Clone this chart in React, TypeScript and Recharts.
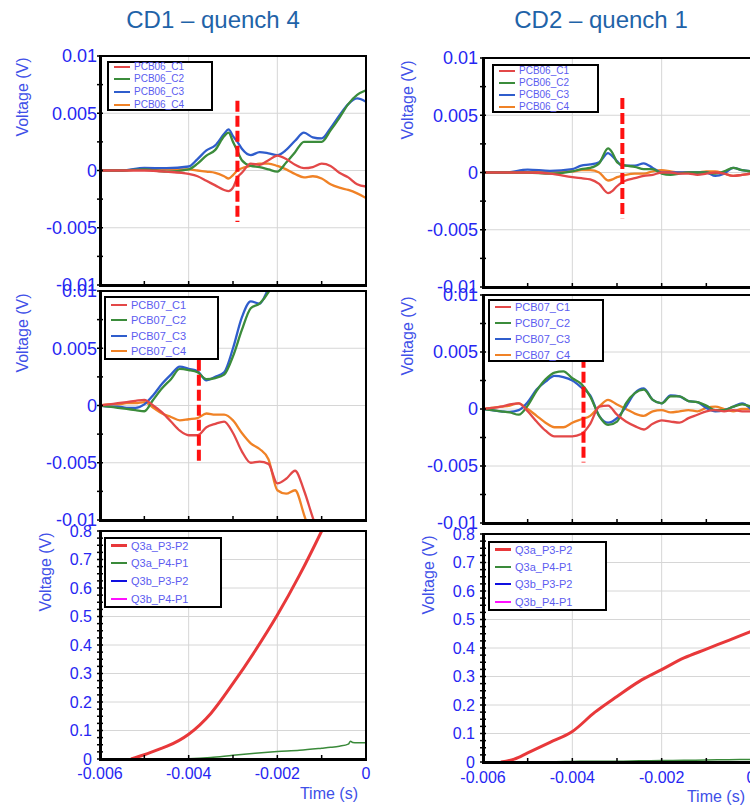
import React from "react";
import { CartesianGrid, Line, LineChart, ReferenceLine, XAxis, YAxis } from "recharts";

const FONT = '"Liberation Sans", Arial, Helvetica, sans-serif';
const AXIS_BLUE = "#2626F2";
const LABEL_BLUE = "#4050E8";
const LEGEND_BLUE = "#5C5CF0";
const TITLE_BLUE = "#1F63A8";

// ---- axes ----
const timeTicks = [-0.006, -0.005, -0.004, -0.003, -0.002, -0.001, 0];
const timeMajor = [-0.006, -0.004, -0.002, 0];
const timeLabels = ["-0.006", "-0.004", "-0.002", "0"];

const pcbTicks = [-0.01, -0.0075, -0.005, -0.0025, 0, 0.0025, 0.005, 0.0075, 0.01];
const pcbMajor = [-0.01, -0.005, 0, 0.005, 0.01];
const pcbLabels = ["-0.01", "-0.005", "0", "0.005", "0.01"];

const q3Major = [0, 0.1, 0.2, 0.3, 0.4, 0.5, 0.6, 0.7, 0.8];
const q3Labels = ["0", "0.1", "0.2", "0.3", "0.4", "0.5", "0.6", "0.7", "0.8"];
const q3Ticks = Array.from({ length: 33 }, (_, i) => (i * 25) / 1000);

// ---- CD1, PCB06 ----
const cd1Time06 = [-0.006, -0.0055, -0.005, -0.0045, -0.004, -0.0038, -0.0036, -0.0034, -0.0032, -0.0031, -0.003, -0.0029, -0.0028, -0.0026, -0.0024, -0.0022, -0.002, -0.0018, -0.0016, -0.0014, -0.0012, -0.001, -0.0008, -0.0006, -0.0004, -0.0002, 0];
const cd1Pcb06C1 = [0, 0, 0, -0.0001, -0.0003, -0.0005, -0.0009, -0.0013, -0.0017, -0.0018, -0.0015, -0.0006, -0.0002, 0.0006, 0.0005, 0.0009, 0.0013, 0.001, 0.0005, 0.0002, 0.0003, 0.0006, 0.0004, -0.0002, -0.0006, -0.0012, -0.0014];
const cd1Pcb06C2 = [0, 0, 0.0001, -0.0001, 0.0001, 0.0006, 0.0013, 0.0018, 0.003, 0.0033, 0.0025, 0.0017, 0.0009, 0.0004, 0.0003, 0.0001, -0.0001, 0.0007, 0.0016, 0.0025, 0.0025, 0.0025, 0.0035, 0.0046, 0.0058, 0.0066, 0.007];
const cd1Pcb06C3 = [0, 0, 0.00023, 0.0002, 0.00035, 0.001, 0.00175, 0.0022, 0.0032, 0.0036, 0.003, 0.0025, 0.0019, 0.00135, 0.0016, 0.0015, 0.00135, 0.0018, 0.0026, 0.0033, 0.0029, 0.0028, 0.0037, 0.0048, 0.0058, 0.0063, 0.006];
const cd1Pcb06C4 = [0, 0, 0.0001, 0.0001, 0.0001, 0, -0.0001, -0.0002, -0.0005, -0.0007, -0.0004, 0, 0.0002, 0.0004, 0.0006, 0.0006, 0.0004, 0.0001, -0.0003, -0.0006, -0.0005, -0.0007, -0.0012, -0.0015, -0.0017, -0.002, -0.0024];

// ---- CD1, PCB07 ----
const cd1Time07 = [-0.006, -0.0058, -0.0056, -0.0054, -0.0052, -0.005, -0.0048, -0.0046, -0.0044, -0.0042, -0.004, -0.0038, -0.0036, -0.0034, -0.0032, -0.003, -0.0028, -0.0026, -0.0024, -0.0022, -0.002, -0.0018, -0.0016, -0.0014, -0.0012, -0.001, -0.0008, -0.0006, -0.0004, -0.0002, 0];
const cd1Pcb07C1 = [0, 0.0001, 0.0002, 0.0003, 0.0004, 0.0005, 0, -0.0006, -0.0014, -0.0022, -0.0026, -0.0026, -0.0019, -0.0016, -0.0014, -0.0024, -0.004, -0.005, -0.0049, -0.0051, -0.0068, -0.0064, -0.0057, -0.0074, -0.0098, -0.012, null, null, null, null, null];
const cd1Pcb07C2 = [0, -0.0001, -0.0002, -0.0003, -0.0004, -0.0005, 0.0005, 0.0015, 0.0023, 0.0032, 0.0031, 0.0029, 0.0023, 0.0024, 0.0027, 0.0043, 0.0066, 0.0085, 0.0089, 0.0099, 0.0115, null, null, null, null, null, null, null, null, null, null];
const cd1Pcb07C3 = [0, -0.0001, -0.0001, -0.0002, -0.0002, 0.0001, 0.0009, 0.0019, 0.0027, 0.0034, 0.0032, 0.003, 0.0022, 0.0025, 0.0029, 0.005, 0.0077, 0.0091, 0.0089, 0.0102, 0.0115, null, null, null, null, null, null, null, null, null, null];
const cd1Pcb07C4 = [0, 0.0001, 0.0001, 0.0002, 0.0002, 0.0003, -0.0002, -0.0007, -0.001, -0.0013, -0.0012, -0.0011, -0.0007, -0.0008, -0.0008, -0.0013, -0.0024, -0.0033, -0.0038, -0.0047, -0.0074, -0.0077, -0.0074, -0.0095, -0.012, null, null, null, null, null, null];

// ---- CD1, quench antenna ----
const cd1TimeQ3 = [-0.006, -0.0055, -0.0053, -0.005, -0.0046, -0.0045, -0.004, -0.0035, -0.003, -0.0025, -0.002, -0.0015, -0.001, -0.0008, -0.0006, -0.0004, -0.00035, -0.0003, -0.0002, 0];
const cd1Q3aP3P2 = [null, null, 0, 0.015, 0.038, 0.044, 0.087, 0.16, 0.265, 0.38, 0.505, 0.645, 0.8, 0.865, null, null, null, null, null, null];
const cd1Q3aP4P1 = [null, null, null, null, 0, 0, 0.001, 0.005, 0.013, 0.02, 0.026, 0.031, 0.038, 0.041, 0.045, 0.052, 0.062, 0.058, 0.057, 0.057];
const cd1Q3bP3P2 = [null, null, 0, 0, 0, 0, 0, 0, 0, 0, 0, 0, 0, 0, 0, 0, 0, 0, 0, 0];
const cd1Q3bP4P1 = [null, null, 0, 0, 0, 0, 0, 0, 0, 0, 0, 0, 0, 0, 0, 0, 0, 0, 0, 0];

// ---- CD2, PCB06 ----
const cd2Time06 = [-0.006, -0.0055, -0.005, -0.0045, -0.004, -0.0038, -0.0036, -0.0034, -0.0032, -0.0031, -0.003, -0.0029, -0.0028, -0.0026, -0.0024, -0.0022, -0.002, -0.0018, -0.0016, -0.0014, -0.0012, -0.001, -0.0008, -0.0006, -0.0004, -0.0002, 0];
const cd2Pcb06C1 = [0, 0, 0, -0.0001, -0.0004, -0.0005, -0.0006, -0.001, -0.0018, -0.0016, -0.0012, -0.0009, -0.0007, -0.0005, -0.0003, -0.0002, 0, 0, -0.0001, -0.0001, -0.0002, -0.0001, 0, -0.0001, -0.0003, -0.0002, -0.0001];
const cd2Pcb06C2 = [0, 0, 0, -0.0001, 0.0001, 0.0003, 0.0004, 0.0008, 0.0021, 0.0017, 0.0009, 0.0007, 0.0006, 0.0005, 0.0003, 0.0003, -0.0001, -0.0002, -0.0001, 0, 0, 0, -0.0001, 0.0001, 0.0004, 0.0002, 0.0001];
const cd2Pcb06C3 = [0, 0, 0.00025, 0.00015, 0.0003, 0.0006, 0.0007, 0.0009, 0.0017, 0.0014, 0.001, 0.0006, 0.0006, 0.0006, 0.0008, 0.0004, 0, 0, 0, 0, 0, 0, -0.0003, -0.0001, 0.0004, 0.0002, 0.0001];
const cd2Pcb06C4 = [0, 0, 0, 0.0001, 0.0001, 0.0002, 0.0002, 0, -0.0007, -0.0006, -0.0004, -0.0003, -0.0002, -0.0001, -0.0001, 0.0001, 0.0002, 0.0001, 0, 0, 0, 0.0001, 0.0001, -0.0001, -0.0003, -0.0002, -0.0001];

// ---- CD2, PCB07 ----
const cd2Time07 = [-0.006, -0.0058, -0.0056, -0.0054, -0.0052, -0.005, -0.0048, -0.0046, -0.0044, -0.0042, -0.004, -0.0038, -0.0036, -0.0034, -0.0032, -0.003, -0.0028, -0.0026, -0.0024, -0.0022, -0.002, -0.0018, -0.0016, -0.0014, -0.0012, -0.001, -0.0008, -0.0006, -0.0004, -0.0002, 0];
const cd2Pcb07C1 = [0, 0.0001, 0.0002, 0.0004, 0.0005, -0.0002, -0.0011, -0.0019, -0.0024, -0.0024, -0.0024, -0.0022, -0.0013, 0.0002, 0.0003, -0.0005, -0.0011, -0.0015, -0.0018, -0.0013, -0.001, -0.0011, -0.0012, -0.0008, -0.0005, -0.0002, -0.0001, -0.0002, -0.0001, -0.0002, -0.0002];
const cd2Pcb07C2 = [0, -0.0001, -0.0002, -0.0003, -0.0005, 0.0003, 0.0016, 0.0026, 0.0032, 0.0033, 0.0027, 0.0022, 0.0011, -0.0006, -0.0014, -0.0011, 0.0005, 0.0014, 0.0017, 0.0008, 0.0005, 0.0011, 0.0011, 0.0007, 0.0006, 0.0003, -0.0001, -0.0001, 0.0002, 0.0004, 0.0002];
const cd2Pcb07C3 = [0, -0.0001, -0.0002, -0.00025, -0.0001, 0.0006, 0.0017, 0.0024, 0.0029, 0.0028, 0.0025, 0.0019, 0.0012, -0.0006, -0.0012, -0.0008, 0.0002, 0.0014, 0.0018, 0.0008, 0.0005, 0.0012, 0.0011, 0.0007, 0.0006, 0.0001, -0.0002, -0.0001, 0.0002, 0.0005, 0];
const cd2Pcb07C4 = [0, 0.0001, 0.0002, 0.0003, 0.0005, 0, -0.0006, -0.0012, -0.0016, -0.0016, -0.0012, -0.0009, -0.0006, 0.0002, 0.0008, 0.0004, 0, -0.0004, -0.0006, -0.0002, -0.0001, -0.0003, -0.0002, -0.0001, -0.0002, 0.0001, 0.0002, 0, -0.0002, 0, 0];

// ---- CD2, quench antenna ----
const cd2TimeQ3 = [-0.006, -0.0056, -0.0053, -0.005, -0.0045, -0.004, -0.0035, -0.003, -0.0025, -0.002, -0.0015, -0.001, -0.0005, 0];
const cd2Q3aP3P2 = [null, 0, 0.01, 0.032, 0.069, 0.107, 0.174, 0.23, 0.283, 0.324, 0.365, 0.396, 0.427, 0.458];
const cd2Q3aP4P1 = [null, 0, 0, 0.001, 0.001, 0.002, 0.003, 0.003, 0.004, 0.005, 0.006, 0.007, 0.008, 0.009];
const cd2Q3bP3P2 = [null, 0, 0, 0, 0, 0, 0, 0, 0, 0, 0, 0, 0, 0];
const cd2Q3bP4P1 = [null, 0, 0, 0, 0, 0, 0, 0, 0, 0, 0, 0, 0, 0];

type Values = (number | null)[];
type Series = { key: string; name: string; color: string; width: number; values: Values };

const pcbColors = ["#E34848", "#3B8C3B", "#2F5DCC", "#F08226"];
const q3Names = ["Q3a_P3-P2", "Q3a_P4-P1", "Q3b_P3-P2", "Q3b_P4-P1"];
const q3Colors = ["#E8383A", "#3A8A3A", "#1010E0", "#FF10FF"];
const q3Widths = [3, 1.5, 2, 2];

const pcbSeries = (board: string, values: Values[]): Series[] =>
  values.map((v, i) => ({
    key: `c${i + 1}`,
    name: `${board}_C${i + 1}`,
    color: pcbColors[i],
    width: 2.3,
    values: v,
  }));

const q3Series = (values: Values[]): Series[] =>
  values.map((v, i) => ({
    key: `q${i}`,
    name: q3Names[i],
    color: q3Colors[i],
    width: q3Widths[i],
    values: v,
  }));

interface LegendBox {
  x: number;
  y: number;
  w: number;
  h: number;
  first: number;
  gap: number;
  font: number;
}

interface PanelProps {
  x: number;
  y: number;
  w: number;
  h: number;
  time: number[];
  series: Series[];
  yDomain: [number, number];
  yTicks: number[];
  yMajor: number[];
  yLabels: string[];
  yFont: number;
  yGap: number;
  voltX: number;
  voltY: number;
  legend: LegendBox;
  cursor?: { t: number; top: number; bottom: number };
  showTime?: boolean;
  timeDy?: number;
  timeTitleDx?: number;
}

const findMajor = (list: number[], v: number) => list.findIndex((m) => Math.abs(m - v) < 1e-9);

function Panel(p: PanelProps) {
  const L = 110;
  const T = 14;
  const R = 12;
  const B = 48;
  const bottom = T + p.h;
  const rows = p.time.map((t, i) => {
    const row: Record<string, number | null> = { t };
    p.series.forEach((s) => {
      row[s.key] = s.values[i];
    });
    return row;
  });

  const yTick = (props: any) => {
    const { y, payload } = props;
    const idx = findMajor(p.yMajor, payload.value);
    return (
      <g>
        <line x1={L - 3} x2={L + 3} y1={y} y2={y} stroke="#000" strokeWidth={1.5} />
        {idx >= 0 && (
          <text x={L - p.yGap} y={y} dy="0.36em" textAnchor="end" fill={AXIS_BLUE} fontSize={p.yFont} fontFamily={FONT}>
            {p.yLabels[idx]}
          </text>
        )}
      </g>
    );
  };

  const xTick = (props: any) => {
    const { x, payload } = props;
    const idx = findMajor(timeMajor, payload.value);
    return (
      <g>
        <line x1={x} x2={x} y1={bottom - 4} y2={bottom + 1} stroke="#000" strokeWidth={1.5} />
        {p.showTime && idx >= 0 && (
          <text x={x} y={bottom + (p.timeDy ?? 14)} dy="0.36em" textAnchor="middle" fill={AXIS_BLUE} fontSize={16} fontFamily={FONT}>
            {timeLabels[idx]}
          </text>
        )}
      </g>
    );
  };

  const voltLabel = () => {
    const cx = L + p.voltX;
    const cy = T + p.voltY;
    return (
      <text x={cx} y={cy} transform={`rotate(-90 ${cx} ${cy})`} textAnchor="middle" dominantBaseline="central" fill={LABEL_BLUE} fontSize={16} fontFamily={FONT}>
        Voltage (V)
      </text>
    );
  };

  const timeLabel = () =>
    p.showTime ? (
      <text x={L + p.w + (p.timeTitleDx ?? -8)} y={bottom + 34} dy="0.36em" textAnchor="end" fill={LABEL_BLUE} fontSize={16} fontFamily={FONT}>
        Time (s)
      </text>
    ) : null;

  const lg = p.legend;

  return (
    <>
      <div style={{ position: "absolute", left: p.x - L, top: p.y - T }}>
        <LineChart width={p.w + L + R} height={p.h + T + B} data={rows} margin={{ top: T, right: R, bottom: 0, left: 0 }}>
          <CartesianGrid stroke="#D6D6D6" strokeWidth={1} horizontalValues={p.yMajor} verticalValues={timeMajor} />
          <XAxis
            dataKey="t"
            type="number"
            domain={[-0.006, 0]}
            ticks={timeTicks}
            interval={0}
            allowDataOverflow
            axisLine={false}
            tickLine={false}
            tick={xTick}
            height={B}
            label={timeLabel}
          />
          <YAxis
            type="number"
            domain={p.yDomain}
            ticks={p.yTicks}
            interval={0}
            allowDataOverflow
            axisLine={false}
            tickLine={false}
            tick={yTick}
            width={L}
            label={voltLabel}
          />
          {[...p.series].reverse().map((s) => (
            <Line
              key={s.key}
              type="monotone"
              dataKey={s.key}
              stroke={s.color}
              strokeWidth={s.width}
              dot={false}
              activeDot={false}
              isAnimationActive={false}
            />
          ))}
          {p.cursor && (
            <ReferenceLine
              segment={[
                { x: p.cursor.t, y: p.cursor.top },
                { x: p.cursor.t, y: p.cursor.bottom },
              ]}
              stroke="#FF1010"
              strokeWidth={4}
              strokeDasharray="11 4"
            />
          )}
        </LineChart>
      </div>
      {/* plot frame, heavier on the axis sides */}
      <div
        style={{
          position: "absolute",
          left: p.x - 1.5,
          top: p.y - 1,
          width: p.w + 2.5,
          height: p.h + 2.5,
          boxSizing: "border-box",
          borderLeft: "3px solid #000",
          borderBottom: "3px solid #000",
          borderTop: "2px solid #000",
          borderRight: "2px solid #000",
        }}
      />
      <div
        style={{
          position: "absolute",
          left: p.x + lg.x,
          top: p.y + lg.y,
          width: lg.w,
          height: lg.h,
          boxSizing: "border-box",
          border: "2px solid #000",
          background: "#fff",
        }}
      >
        {p.series.map((s, i) => (
          <div
            key={s.key}
            style={{
              position: "absolute",
              left: 0,
              top: lg.first + i * lg.gap - 2 - 7,
              height: 14,
              display: "flex",
              alignItems: "center",
              whiteSpace: "nowrap",
            }}
          >
            <span style={{ display: "inline-block", marginLeft: 5, width: 16, height: Math.max(2, Math.round(s.width)), background: s.color }} />
            <span style={{ marginLeft: 4, fontSize: lg.font, lineHeight: "14px", color: LEGEND_BLUE, fontFamily: FONT }}>{s.name}</span>
          </div>
        ))}
      </div>
    </>
  );
}

const titleStyle = (cx: number): React.CSSProperties => ({
  position: "absolute",
  left: cx,
  top: 6,
  transform: "translateX(-50%)",
  fontSize: 24,
  lineHeight: "28px",
  color: TITLE_BLUE,
  fontFamily: FONT,
  whiteSpace: "nowrap",
});

export default function App() {
  const pcbAxis = {
    yDomain: [-0.01, 0.01] as [number, number],
    yTicks: pcbTicks,
    yMajor: pcbMajor,
    yLabels: pcbLabels,
    yFont: 18,
  };
  const q3Axis = {
    yDomain: [0, 0.8] as [number, number],
    yTicks: q3Ticks,
    yMajor: q3Major,
    yLabels: q3Labels,
    yFont: 16,
  };

  return (
    <div
      style={{
        position: "absolute",
        left: 0,
        top: 0,
        width: 750,
        height: 805,
        overflow: "hidden",
        background: "#fff",
        fontFamily: FONT,
      }}
    >
      <div style={titleStyle(213)}>CD1 – quench 4</div>
      <div style={titleStyle(601)}>CD2 – quench 1</div>

      <Panel
        x={100}
        y={56}
        w={266}
        h={229}
        time={cd1Time06}
        series={pcbSeries("PCB06", [cd1Pcb06C1, cd1Pcb06C2, cd1Pcb06C3, cd1Pcb06C4])}
        {...pcbAxis}
        yGap={3}
        voltX={-78}
        voltY={41}
        legend={{ x: 7, y: 5, w: 106, h: 50, first: 5.5, gap: 12.7, font: 10 }}
        cursor={{ t: -0.0029, top: 0.0061, bottom: -0.0045 }}
      />
      <Panel
        x={100}
        y={291}
        w={266}
        h={229}
        time={cd1Time07}
        series={pcbSeries("PCB07", [cd1Pcb07C1, cd1Pcb07C2, cd1Pcb07C3, cd1Pcb07C4])}
        {...pcbAxis}
        yGap={3}
        voltX={-78}
        voltY={42}
        legend={{ x: 4, y: 5, w: 115, h: 64, first: 8.6, gap: 15.6, font: 11 }}
        cursor={{ t: -0.00377, top: 0.0053, bottom: -0.005 }}
      />
      <Panel
        x={100}
        y={531}
        w={266}
        h={228}
        time={cd1TimeQ3}
        series={q3Series([cd1Q3aP3P2, cd1Q3aP4P1, cd1Q3bP3P2, cd1Q3bP4P1])}
        {...q3Axis}
        yGap={8}
        voltX={-55}
        voltY={41}
        legend={{ x: 4, y: 6, w: 118, h: 71, first: 8.7, gap: 17.6, font: 11 }}
        showTime
        timeDy={14}
        timeTitleDx={-8}
      />

      <Panel
        x={483}
        y={58}
        w={268}
        h={229}
        time={cd2Time06}
        series={pcbSeries("PCB06", [cd2Pcb06C1, cd2Pcb06C2, cd2Pcb06C3, cd2Pcb06C4])}
        {...pcbAxis}
        yGap={5}
        voltX={-76}
        voltY={42}
        legend={{ x: 9, y: 6, w: 107, h: 49, first: 6.7, gap: 12, font: 10 }}
        cursor={{ t: -0.00288, top: 0.0065, bottom: -0.004 }}
      />
      <Panel
        x={483}
        y={295}
        w={268}
        h={228}
        time={cd2Time07}
        series={pcbSeries("PCB07", [cd2Pcb07C1, cd2Pcb07C2, cd2Pcb07C3, cd2Pcb07C4])}
        {...pcbAxis}
        yGap={5}
        voltX={-76}
        voltY={41}
        legend={{ x: 5, y: 4, w: 116, h: 63, first: 7.7, gap: 16.1, font: 11 }}
        cursor={{ t: -0.00375, top: 0.0059, bottom: -0.0047 }}
      />
      <Panel
        x={483}
        y={534}
        w={268}
        h={228}
        time={cd2TimeQ3}
        series={q3Series([cd2Q3aP3P2, cd2Q3aP4P1, cd2Q3bP3P2, cd2Q3bP4P1])}
        {...q3Axis}
        yGap={8}
        voltX={-55}
        voltY={41}
        legend={{ x: 5, y: 7, w: 119, h: 70, first: 8.6, gap: 17.3, font: 11 }}
        showTime
        timeDy={15}
        timeTitleDx={-6}
      />
    </div>
  );
}
